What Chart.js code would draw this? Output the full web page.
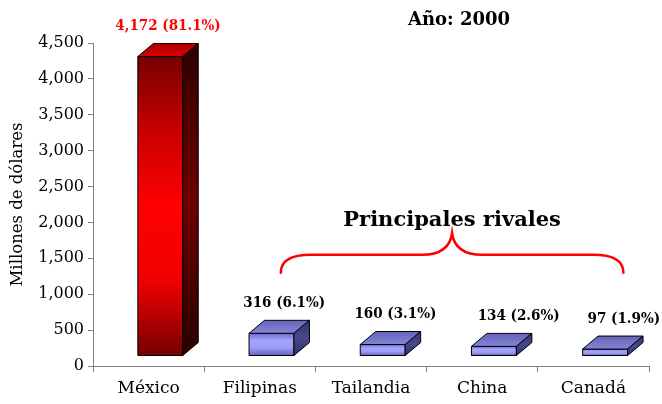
<!DOCTYPE html>
<html>
<head>
<meta charset="utf-8">
<script src="https://cdn.jsdelivr.net/npm/chart.js@4"></script>
<style>
  html, body { margin: 0; padding: 0; background: #fff; }
  #wrap { width: 662px; height: 404px; }
</style>
</head>
<body>
<div id="wrap"><canvas id="exports"></canvas></div>
<script>
const paises = ['México', 'Filipinas', 'Tailandia', 'China', 'Canadá'];
const millones = [4172, 316, 160, 134, 97];
const porcentajes = [81.1, 6.1, 3.1, 2.6, 1.9];

const fmt = v => v.toLocaleString('en-US');

// 3D box look: front face gradient, top face, right side
const depthX = 15.5, depthY = 13, lift = 10, shiftX = 11.7;
const estilos = [
  { front: ['#760000', '#c80000', '#ff0000', '#f00000', '#760000'], top: ['#b00000', '#d80000'], side: ['#2e0000', '#6e0000', '#2a0000'], label: '#ff0000' },
  { front: ['#6a6ad2', '#a6a6ff', '#9c9cf6', '#6060c0'], top: ['#6464b8', '#8484d8'], side: ['#34346c', '#48488c', '#30306a'], label: '#000' },
];
const labelNudge = [0, 5, 5, 17, 11];

function grad(ctx, x0, y0, x1, y1, colors) {
  const g = ctx.createLinearGradient(x0, y0, x1, y1);
  colors.forEach((c, i) => g.addColorStop(i / (colors.length - 1), c));
  return g;
}

const cajas3d = {
  id: 'cajas3d',
  afterDatasetsDraw(chart) {
    const ctx = chart.ctx;
    const meta = chart.getDatasetMeta(0);
    ctx.save();
    ctx.lineWidth = 1;
    ctx.strokeStyle = '#000';
    ctx.lineJoin = 'round';
    meta.data.forEach((el, i) => {
      const st = estilos[i === 0 ? 0 : 1];
      const w = el.width;
      const l = el.x + shiftX - w / 2, r = l + w;
      const top = el.y - lift, bot = el.base - lift;

      // front
      ctx.fillStyle = grad(ctx, 0, top, 0, bot, st.front);
      ctx.fillRect(l, top, w, bot - top);
      ctx.strokeRect(l, top, w, bot - top);

      // top face
      ctx.beginPath();
      ctx.moveTo(l, top);
      ctx.lineTo(r, top);
      ctx.lineTo(r + depthX, top - depthY);
      ctx.lineTo(l + depthX, top - depthY);
      ctx.closePath();
      ctx.fillStyle = grad(ctx, 0, top - depthY, 0, top, st.top);
      ctx.fill();
      ctx.stroke();

      // side face
      ctx.beginPath();
      ctx.moveTo(r, top);
      ctx.lineTo(r + depthX, top - depthY);
      ctx.lineTo(r + depthX, bot - depthY);
      ctx.lineTo(r, bot);
      ctx.closePath();
      ctx.fillStyle = grad(ctx, 0, top - depthY, 0, bot, st.side);
      ctx.fill();
      ctx.stroke();

      // value label
      ctx.fillStyle = st.label;
      ctx.font = "bold 15px 'DejaVu Serif Condensed', 'DejaVu Serif', serif";
      ctx.textAlign = 'center';
      ctx.textBaseline = 'middle';
      ctx.fillText(fmt(millones[i]) + ' (' + porcentajes[i].toFixed(1) + '%)',
        l + (w + depthX) / 2 + labelNudge[i], top - depthY - 17);
    });
    ctx.restore();
  }
};

// brace over the competing countries, with its caption, plus the year
const notas = {
  id: 'notas',
  afterDraw(chart) {
    const ctx = chart.ctx;
    const xs = chart.scales.x, ys = chart.scales.y;
    const L = xs.getPixelForValue(1) + 21, R = xs.getPixelForValue(4) + 30;
    const M = (L + R) / 2;
    const yTip = ys.getPixelForValue(1850), yBar = ys.getPixelForValue(1550), yEnd = ys.getPixelForValue(1300);
    ctx.save();
    ctx.strokeStyle = '#ff0000';
    ctx.lineWidth = 2.5;
    ctx.lineCap = 'round';
    ctx.beginPath();
    ctx.moveTo(L, yEnd);
    ctx.quadraticCurveTo(L, yBar, L + 30, yBar);
    ctx.lineTo(M - 30, yBar);
    ctx.quadraticCurveTo(M - 3, yBar, M, yTip);
    ctx.quadraticCurveTo(M + 3, yBar, M + 30, yBar);
    ctx.lineTo(R - 30, yBar);
    ctx.quadraticCurveTo(R, yBar, R, yEnd);
    ctx.stroke();

    ctx.fillStyle = '#000';
    ctx.textAlign = 'center';
    ctx.textBaseline = 'alphabetic';
    ctx.font = "bold 21px 'DejaVu Serif', serif";
    ctx.fillText('Principales rivales', M, yTip - 7);

    ctx.font = "bold 18px 'DejaVu Serif', serif";
    ctx.fillText('Año: 2000', 459, 25);
    ctx.restore();
  }
};

new Chart(document.getElementById('exports'), {
  type: 'bar',
  data: {
    labels: paises,
    datasets: [{
      label: 'Exportaciones',
      data: millones,
      backgroundColor: 'rgba(0,0,0,0)',
      borderWidth: 0,
      categoryPercentage: 1,
      barPercentage: 0.404
    }]
  },
  options: {
    responsive: true,
    maintainAspectRatio: false,
    animation: false,
    layout: { padding: { top: 43, right: 13, left: 5, bottom: 0 } },
    plugins: {
      legend: { display: false },
      tooltip: { enabled: false }
    },
    scales: {
      x: {
        afterFit: s => { s.height = 38; },
        grid: { offset: true, drawOnChartArea: false, tickLength: 6, color: '#808080' },
        border: { color: '#808080' },
        ticks: { color: '#000', padding: 6, font: { family: "'DejaVu Serif', serif", size: 17 } }
      },
      y: {
        min: 0,
        max: 4500,
        afterFit: s => { s.width = 88; },
        grid: { drawOnChartArea: false, tickLength: 5, color: '#808080' },
        border: { color: '#808080' },
        ticks: {
          stepSize: 500,
          color: '#000',
          padding: 4,
          font: { family: "'DejaVu Serif', serif", size: 16 },
          callback: v => fmt(v)
        },
        title: {
          display: true,
          text: 'Millones de dólares',
          color: '#000',
          padding: { top: 3, bottom: 0 },
          font: { family: "'DejaVu Serif', serif", size: 16.5 }
        }
      }
    }
  },
  plugins: [cajas3d, notas]
});
</script>
</body>
</html>
